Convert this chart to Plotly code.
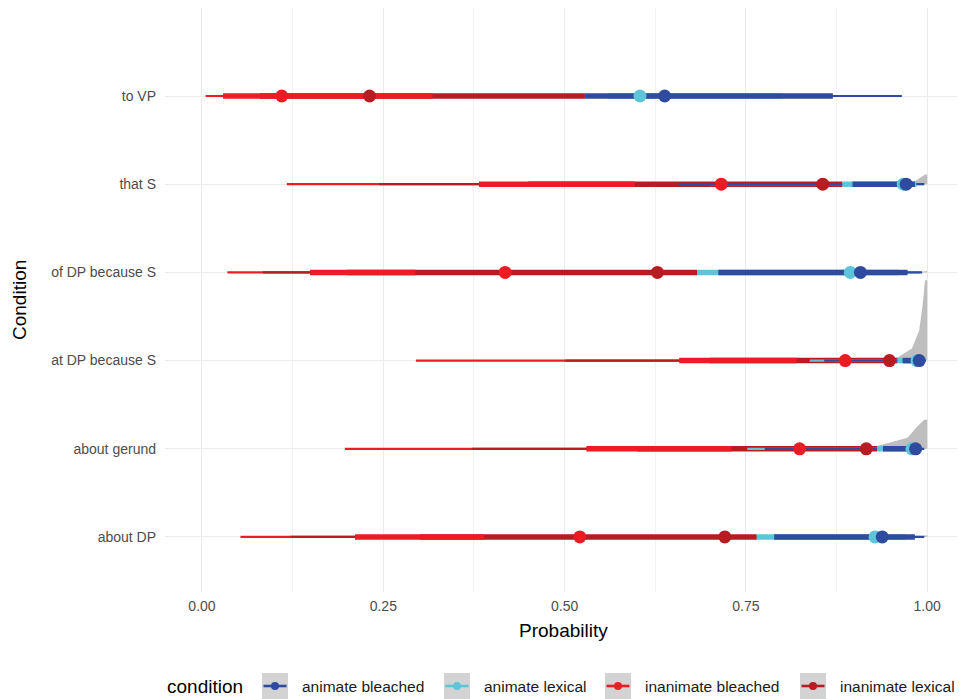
import plotly.graph_objects as go

# ---------------- data ----------------
conditions = ["about DP", "about gerund", "at DP because S", "of DP because S", "that S", "to VP"]
groups = ["animate bleached", "animate lexical", "inanimate bleached", "inanimate lexical"]
group_colors = ["#2F4B9F", "#5EC4DA", "#ED1C24", "#B71C22"]

# medians (point estimates), in `conditions` order
med_anim_bleached = [0.938, 0.984, 0.989, 0.908, 0.971, 0.638]
med_anim_lexical = [0.928, 0.979, 0.986, 0.894, 0.967, 0.604]
med_inan_bleached = [0.521, 0.824, 0.887, 0.418, 0.716, 0.110]
med_inan_lexical = [0.721, 0.916, 0.948, 0.628, 0.856, 0.231]

# 95% intervals (thin lines)
lo95_anim_bleached = [0.789, 0.776, 0.858, 0.712, 0.657, 0.528]
hi95_anim_bleached = [0.996, 0.996, 0.998, 0.993, 0.996, 0.965]
lo95_anim_lexical = [0.765, 0.752, 0.838, 0.683, 0.700, 0.550]
hi95_anim_lexical = [0.990, 0.990, 0.995, 0.990, 0.995, 0.950]
lo95_inan_bleached = [0.053, 0.197, 0.295, 0.035, 0.117, 0.005]
hi95_inan_bleached = [0.700, 0.950, 0.970, 0.600, 0.850, 0.500]
lo95_inan_lexical = [0.122, 0.372, 0.501, 0.084, 0.244, 0.040]
hi95_inan_lexical = [0.900, 0.970, 0.980, 0.800, 0.950, 0.700]

# 66% intervals (thick lines)
lo66_anim_bleached = [0.789, 0.939, 0.966, 0.712, 0.897, 0.528]
hi66_anim_bleached = [0.983, 0.992, 0.995, 0.973, 0.983, 0.870]
lo66_anim_lexical = [0.765, 0.931, 0.959, 0.683, 0.883, 0.560]
hi66_anim_lexical = [0.970, 0.990, 0.990, 0.960, 0.985, 0.800]
lo66_inan_bleached = [0.211, 0.530, 0.658, 0.149, 0.382, 0.029]
hi66_inan_bleached = [0.389, 0.730, 0.820, 0.294, 0.597, 0.318]
lo66_inan_lexical = [0.300, 0.600, 0.700, 0.200, 0.450, 0.080]
hi66_inan_lexical = [0.765, 0.931, 0.959, 0.683, 0.883, 0.528]

# posterior density slabs (grey): x and height (in row units)
slab_rows = ["about DP", "about gerund", "at DP because S", "of DP because S", "that S"]
slab_x = [
    [0.980, 0.995, 1.000],
    [0.900, 0.932, 0.973, 0.986, 0.996, 1.000],
    [0.940, 0.959, 0.979, 0.989, 0.994, 0.997, 1.000],
    [0.985, 0.998, 1.000],
    [0.970, 0.981, 0.990, 0.997, 1.000],
]
slab_h = [
    [0.0, 0.02, 0.02],
    [0.0, 0.034, 0.125, 0.25, 0.33, 0.33],
    [0.0, 0.034, 0.136, 0.34, 0.65, 0.91, 0.91],
    [0.0, 0.015, 0.015],
    [0.0, 0.023, 0.07, 0.11, 0.11],
]

x_ticks = [0.0, 0.25, 0.5, 0.75, 1.0]
x_tick_labels = ["0.00", "0.25", "0.50", "0.75", "1.00"]

# ---------------- figure ----------------
OFF = 8  # page body margin
W, H = 965 - OFF, 699 - OFF
ML, MR, MT, MB = 165 - OFF, 3, 8 - OFF, 699 - 592
PW, PH = W - ML - MR, H - MT - MB
FONT = "Liberation Sans, Arial, Helvetica, sans-serif"

ypos = {c: i + 1 for i, c in enumerate(conditions)}

meds = [med_anim_bleached, med_anim_lexical, med_inan_bleached, med_inan_lexical]
lo95 = [lo95_anim_bleached, lo95_anim_lexical, lo95_inan_bleached, lo95_inan_lexical]
hi95 = [hi95_anim_bleached, hi95_anim_lexical, hi95_inan_bleached, hi95_inan_lexical]
lo66 = [lo66_anim_bleached, lo66_anim_lexical, lo66_inan_bleached, lo66_inan_lexical]
hi66 = [hi66_anim_bleached, hi66_anim_lexical, hi66_inan_bleached, hi66_inan_lexical]

fig = go.Figure()

# slabs
for row, xs, hs in zip(slab_rows, slab_x, slab_h):
    y0 = ypos[row]
    px = list(xs) + [xs[-1], xs[0]]
    py = [y0 + h for h in hs] + [y0, y0]
    fig.add_trace(go.Scatter(x=px, y=py, mode="lines", fill="toself",
                             fillcolor="#BEBEBE", line=dict(width=0, color="#BEBEBE"),
                             hoverinfo="skip", showlegend=False))


def seg_trace(gi, lo, hi, width):
    xs, ys = [], []
    for ci, c in enumerate(conditions):
        xs += [lo[gi][ci], hi[gi][ci], None]
        ys += [ypos[c], ypos[c], None]
    return go.Scatter(x=xs, y=ys, mode="lines",
                      line=dict(color=group_colors[gi], width=width),
                      hoverinfo="skip", showlegend=False)

THIN, THICK = 2.2, 5.5
# drawing order (as in the reference)
order = [("thin", 2), ("thin", 3), ("thick", 3), ("thick", 2),
         ("thin", 1), ("thin", 0), ("thick", 1), ("thick", 0)]
for kind, gi in order:
    if kind == "thin":
        fig.add_trace(seg_trace(gi, lo95, hi95, THIN))
    else:
        fig.add_trace(seg_trace(gi, lo66, hi66, THICK))

for gi in [2, 3, 1, 0]:
    fig.add_trace(go.Scatter(x=meds[gi], y=[ypos[c] for c in conditions], mode="markers",
                             marker=dict(color=group_colors[gi], size=13, line=dict(width=0)),
                             name=groups[gi], showlegend=False))

fig.update_layout(
    width=W, height=H,
    margin=dict(l=ML, r=MR, t=MT, b=MB, pad=0),
    paper_bgcolor="white", plot_bgcolor="white",
    font=dict(family=FONT, size=14, color="#4D4D4D"),
    showlegend=False,
    xaxis=dict(range=[-0.051, 1.048], tickvals=x_ticks, ticktext=x_tick_labels,
               showgrid=True, gridcolor="#EBEBEB", gridwidth=1.2, zeroline=False,
               showline=False, ticks="", ticklabelstandoff=4,
               tickfont=dict(size=14, color="#4D4D4D"),
               minor=dict(dtick=0.125, showgrid=True, gridcolor="#F2F2F2", gridwidth=0.7)),
    yaxis=dict(range=[0.376, 6.998], tickvals=[ypos[c] for c in conditions], ticktext=conditions,
               showgrid=True, gridcolor="#EBEBEB", gridwidth=1.2, zeroline=False,
               showline=False, ticks="", ticklabelstandoff=8,
               tickfont=dict(size=14, color="#4D4D4D")),
)


def px2paper(x, y):
    # x, y given in page pixels
    x -= OFF
    y -= OFF
    return (x - ML) / PW, (H - MB - y) / PH

annotations = []
shapes = []
# axis titles
ax, ay = px2paper(563.5, 630)
annotations.append(dict(x=ax, y=ay, xref="paper", yref="paper", text="Probability",
                        showarrow=False, font=dict(size=19, color="black", family=FONT),
                        xanchor="center", yanchor="middle"))
ax, ay = px2paper(19, 300)
annotations.append(dict(x=ax, y=ay, xref="paper", yref="paper", text="Condition",
                        showarrow=False, textangle=-90,
                        font=dict(size=19, color="black", family=FONT),
                        xanchor="center", yanchor="middle"))

# legend (ggplot-style, drawn manually)
leg_y = 686
ax, ay = px2paper(166, leg_y)
annotations.append(dict(x=ax, y=ay, xref="paper", yref="paper", text="condition",
                        showarrow=False, font=dict(size=19, color="black", family=FONT),
                        xanchor="left", yanchor="middle", borderpad=0))
key_left = [262, 444, 605, 800]
for gi, kx in enumerate(key_left):
    x0, y0 = px2paper(kx, leg_y - 13)
    x1, y1 = px2paper(kx + 26, leg_y + 13)
    shapes.append(dict(type="rect", xref="paper", yref="paper", x0=x0, x1=x1, y0=y1, y1=y0,
                       fillcolor="#D3D3D3", line=dict(width=0), layer="above"))
    lx0, ly = px2paper(kx + 1.5, leg_y)
    lx1, _ = px2paper(kx + 24.5, leg_y)
    shapes.append(dict(type="line", xref="paper", yref="paper", x0=lx0, x1=lx1, y0=ly, y1=ly,
                       line=dict(color=group_colors[gi], width=2.6), layer="above"))
    cx0, cy0 = px2paper(kx + 13 - 4, leg_y - 4)
    cx1, cy1 = px2paper(kx + 13 + 4, leg_y + 4)
    shapes.append(dict(type="circle", xref="paper", yref="paper", x0=cx0, x1=cx1, y0=cy1, y1=cy0,
                       fillcolor=group_colors[gi], line=dict(width=0), layer="above"))
    tx, ty = px2paper(kx + 39, leg_y)
    annotations.append(dict(x=tx, y=ty, xref="paper", yref="paper", text=groups[gi],
                            showarrow=False, font=dict(size=15.5, color="#1A1A1A", family=FONT),
                            xanchor="left", yanchor="middle", borderpad=0))

fig.update_layout(annotations=annotations, shapes=shapes)
fig.write_html("out.html")
